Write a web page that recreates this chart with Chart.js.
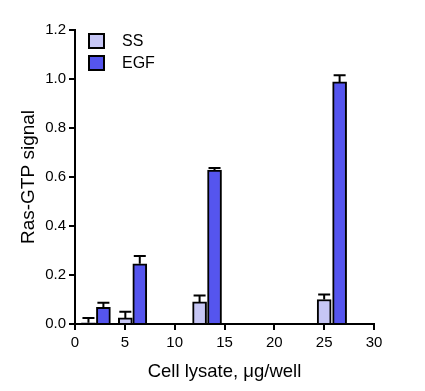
<!DOCTYPE html>
<html>
<head>
<meta charset="utf-8">
<script src="https://cdn.jsdelivr.net/npm/chart.js@4"></script>
<style>
  html, body { margin: 0; padding: 0; background: #fff; }
  #wrap { width: 425px; height: 391px; }
</style>
</head>
<body>
<div id="wrap"><canvas id="chart" width="425" height="391"></canvas></div>
<script>
// values
const seriesLabels = ["SS", "EGF"];
const ssX = [1.35, 5.05, 12.5, 25.0];
const ssY = [0.005, 0.025, 0.09, 0.10];
const ssErr = [0.02, 0.025, 0.026, 0.02];
const egfX = [2.85, 6.5, 14.0, 26.55];
const egfY = [0.068, 0.246, 0.628, 0.988];
const egfErr = [0.019, 0.032, 0.009, 0.027];
const xTicks = [0, 5, 10, 15, 20, 25, 30];
const yTicks = [0, 0.2, 0.4, 0.6, 0.8, 1.0, 1.2];

const font = "Liberation Sans, Arial, sans-serif";

function toPoints(xs, ys) {
  return xs.map((x, i) => ({ x: x, y: ys[i] }));
}

// upward error bars with a cap
const errorBars = {
  id: "errorBars",
  afterDatasetsDraw(chart) {
    const ctx = chart.ctx;
    const ys = chart.scales.y;
    const errs = [ssErr, egfErr];
    ctx.save();
    ctx.strokeStyle = "#000";
    ctx.lineWidth = 2;
    chart.data.datasets.forEach((ds, d) => {
      const meta = chart.getDatasetMeta(d);
      meta.data.forEach((bar, i) => {
        const top = ys.getPixelForValue(ds.data[i].y + errs[d][i]);
        const base = ys.getPixelForValue(ds.data[i].y);
        ctx.beginPath();
        ctx.moveTo(bar.x, base);
        ctx.lineTo(bar.x, top);
        ctx.moveTo(bar.x - 6, top);
        ctx.lineTo(bar.x + 6, top);
        ctx.stroke();
      });
    });
    ctx.restore();
  }
};

// legend in the top-left corner of the plot
const boxLegend = {
  id: "boxLegend",
  afterDraw(chart) {
    const ctx = chart.ctx;
    const left = chart.chartArea.left + 14;
    let y = chart.chartArea.top + 4;
    ctx.save();
    chart.data.datasets.forEach((ds) => {
      ctx.fillStyle = ds.backgroundColor;
      ctx.fillRect(left, y, 15, 14);
      ctx.strokeStyle = "#000";
      ctx.lineWidth = 2;
      ctx.strokeRect(left, y, 15, 14);
      ctx.fillStyle = "#000";
      ctx.font = "16px " + font;
      ctx.textBaseline = "middle";
      ctx.fillText(ds.label, left + 33, y + 8);
      y += 22;
    });
    ctx.restore();
  }
};

const config = {
  type: "bar",
  data: {
    datasets: [
      {
        label: seriesLabels[0],
        data: toPoints(ssX, ssY),
        backgroundColor: "#c6c6f5",
        borderColor: "#000",
        borderWidth: 2,
      },
      {
        label: seriesLabels[1],
        data: toPoints(egfX, egfY),
        backgroundColor: "#5555ee",
        borderColor: "#000",
        borderWidth: 2,
      },
    ],
  },
  options: {
    responsive: false,
    animation: false,
    layout: { padding: { top: 30, right: 51, left: 0, bottom: 0 } },
    datasets: { bar: { grouped: false, barThickness: 14 } },
    plugins: { legend: { display: false }, tooltip: { enabled: false } },
    scales: {
      x: {
        type: "linear",
        offset: false,
        min: 0,
        max: 30,
        afterBuildTicks: (s) => { s.ticks = xTicks.map((v) => ({ value: v })); },
        afterFit: (s) => { s.height = 67; },
        border: { color: "#000", width: 2 },
        grid: { drawOnChartArea: false, offset: false, color: "#000", lineWidth: 2, tickLength: 6 },
        ticks: { color: "#000", font: { family: font, size: 15 }, padding: 4, maxRotation: 0 },
        title: { display: true, text: "Cell lysate, μg/well", color: "#000", font: { family: font, size: 18.5 }, padding: { top: 4, bottom: 8 } },
      },
      y: {
        min: 0,
        max: 1.2,
        afterBuildTicks: (s) => { s.ticks = yTicks.map((v) => ({ value: v })); },
        afterFit: (s) => { s.width = 75; },
        border: { color: "#000", width: 2 },
        grid: { drawOnChartArea: false, color: "#000", lineWidth: 2, tickLength: 6 },
        ticks: { color: "#000", font: { family: font, size: 15 }, padding: 3, callback: (v) => v.toFixed(1) },
        title: { display: true, text: "Ras-GTP signal", color: "#000", font: { family: font, size: 19 }, padding: { top: 17 } },
      },
    },
  },
  plugins: [errorBars, boxLegend],
};

new Chart(document.getElementById("chart"), config);
</script>
</body>
</html>
